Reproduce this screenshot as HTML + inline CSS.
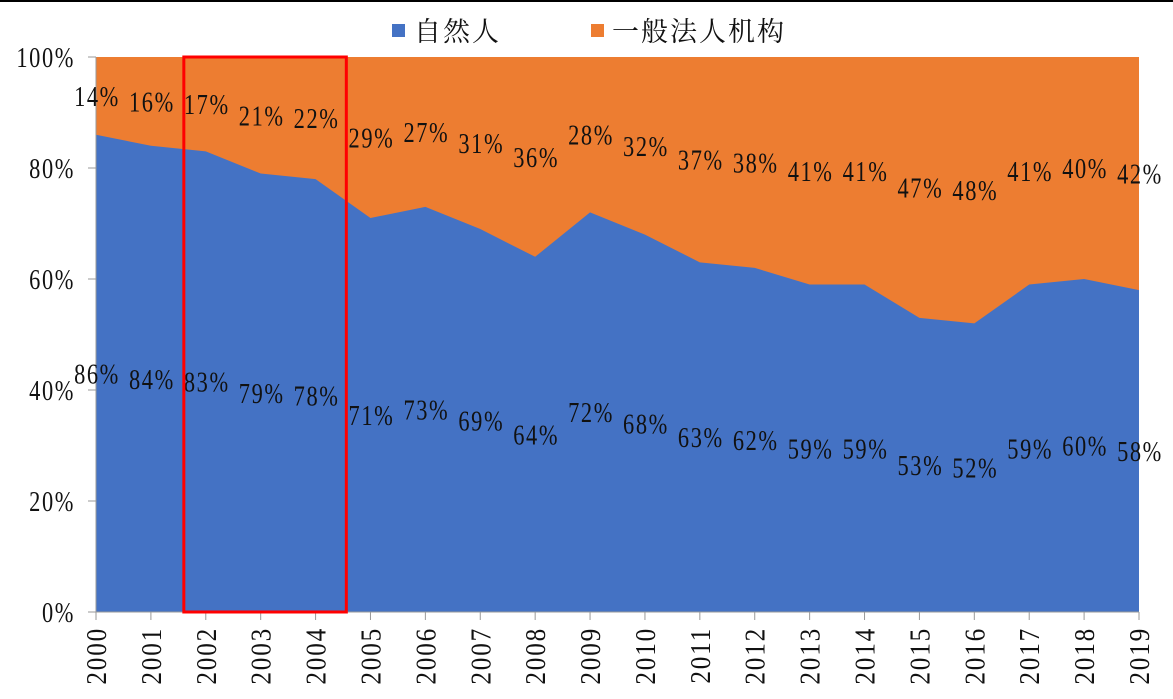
<!DOCTYPE html>
<html><head><meta charset="utf-8"><style>
body{margin:0;background:#fff}
svg{display:block}
text{font-family:"Liberation Serif","Noto Serif CJK SC",serif;fill:#111}
</style></head><body>
<svg width="1173" height="699">
<rect x="0" y="0" width="1173" height="2" fill="#000"/>
<g id="legend">
<rect x="392" y="24" width="13" height="13" fill="#4472c4"/>
<text x="414" y="41" font-size="27" letter-spacing="2" font-family="Noto Sans CJK SC,sans-serif">自然人</text>
<rect x="591" y="24" width="13" height="13" fill="#ed7d31"/>
<text x="612" y="41" font-size="27" letter-spacing="2" font-family="Noto Sans CJK SC,sans-serif">一般法人机构</text>
</g>
<g id="plot"></g>
</svg>
<script>
const years=['2000','2001','2002','2003','2004','2005','2006','2007','2008','2009','2010','2011','2012','2013','2014','2015','2016','2017','2018','2019'];
const individual=[86,84,83,79,78,71,73,69,64,72,68,63,62,59,59,53,52,59,60,58];
const institution=[14,16,17,21,22,29,27,31,36,28,32,37,38,41,41,47,48,41,40,42];
const yTicks=[0,20,40,60,80,100];
const X0=96,X1=1139,YT=57,YB=612;
const xs=i=>X0+(X1-X0)*i/(years.length-1);
const ys=v=>YB-(YB-YT)*v/100;
const NS='http://www.w3.org/2000/svg';
const g=document.getElementById('plot');
function mk(t,a){const e=document.createElementNS(NS,t);for(const k in a)e.setAttribute(k,a[k]);g.appendChild(e);return e;}
const FS=28,SX=0.8,LS=2;
const bg=mk('rect',{x:X0,y:YT,width:X1-X0,height:YB-YT,fill:'#ed7d31'});


let d='M'+X0+','+YB;
individual.forEach((v,i)=>{d+=' L'+xs(i)+','+ys(v);});
d+=' L'+X1+','+YB+' Z';
const ar=mk('path',{d:d,fill:'#4472c4'});


const ax=mk('path',{d:`M${X0},${YT} V${YB} H${X1}`,stroke:'#999',fill:'none','stroke-width':1});


yTicks.forEach(t=>{
 const y=ys(t);
 const l=mk('line',{x1:X0-8,x2:X0,y1:y,y2:y,stroke:'#999'});
 
 
 const tx=mk('text',{x:0,y:0,'font-size':FS,'letter-spacing':LS,'text-anchor':'end',transform:`translate(75,${y+10}) scale(${SX},1)`});
 tx.textContent=t+'%';
 
 
});
years.forEach((yr,i)=>{
 const x=xs(i);
 const l=mk('line',{x1:x,x2:x,y1:YB,y2:YB+8,stroke:'#999'});
 
 
 const tx=mk('text',{x:0,y:0,'font-size':FS,'letter-spacing':LS,'text-anchor':'end',transform:`translate(${x+10},627) rotate(-90) scale(0.9,1)`});
 tx.textContent=yr;
 
 
 const a=individual[i],b=institution[i];
 const t1=mk('text',{x:0,y:0,'font-size':FS,'letter-spacing':LS,'text-anchor':'middle',transform:`translate(${x+1},${ys(a/2)+10}) scale(${SX},1)`});
 t1.textContent=a+'%';
 
 
 const t2=mk('text',{x:0,y:0,'font-size':FS,'letter-spacing':LS,'text-anchor':'middle',transform:`translate(${x+1},${ys(a+b/2)+10}) scale(${SX},1)`});
 t2.textContent=b+'%';
 
 
});
const hl=mk('rect',{x:xs(1.6),y:YT,width:xs(4.56)-xs(1.6),height:YB-YT,fill:'none',stroke:'#ff0000','stroke-width':3});


</script>
</body></html>
